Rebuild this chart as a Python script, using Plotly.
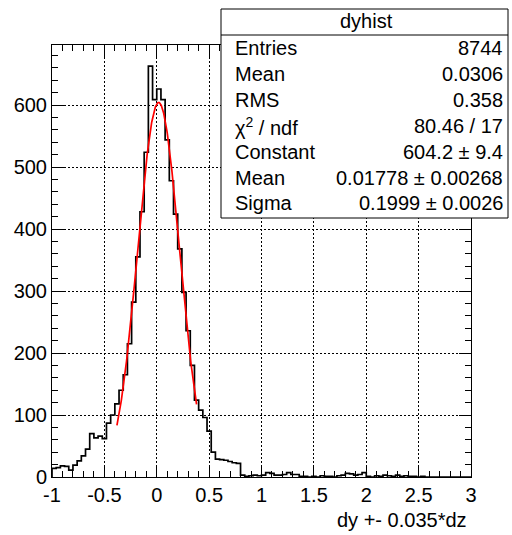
import numpy as np
import plotly.graph_objects as go

# ---- data -------------------------------------------------------------
x_min, x_max, n_bins = -1.0, 3.0, 100
counts = [
    14, 15, 18, 17, 11, 19, 26, 34, 45, 70,
    63, 66, 62, 87, 100, 118, 140, 165, 215, 282,
    355, 428, 524, 663, 609, 626, 609, 544, 478, 424,
    368, 298, 236, 180, 124, 108, 96, 74, 40, 29,
    28, 27, 25, 23, 22, 3, 1, 2, 3, 2,
    3, 7, 6, 3, 3, 4, 7, 4, 4, 1,
    1, 0, 1, 0, 2, 1, 1, 0, 2, 3,
    6, 5, 3, 4, 7, 1, 0, 2, 1, 3,
    2, 1, 3, 1, 2, 1, 1, 0, 1, 0,
    0, 0, 0, 0, 0, 0, 0, 0, 0, 0,
]
fit_constant, fit_mean, fit_sigma = 604.2, 0.01778, 0.1999
fit_lo, fit_hi = -0.38, 0.38

x_tick_vals = [-1, -0.5, 0, 0.5, 1, 1.5, 2, 2.5, 3]
x_tick_labels = ["-1", "-0.5", "0", "0.5", "1", "1.5", "2", "2.5", "3"]
y_tick_vals = [0, 100, 200, 300, 400, 500, 600]
y_tick_labels = ["0", "100", "200", "300", "400", "500", "600"]

stats_title = "dyhist"
stats_labels = ["Entries", "Mean", "RMS", "χ<sup>2</sup> / ndf", "Constant", "Mean", "Sigma"]
stats_values = ["8744", "0.0306", "0.358", "80.46 / 17", "604.2 ± 9.4",
                "0.01778 ± 0.00268", "0.1999 ± 0.0026"]
x_title = "dy +- 0.035*dz"

# ---- figure -----------------------------------------------------------
edges = np.linspace(x_min, x_max, n_bins + 1)
hx = [edges[0]] + list(edges)
hy = [0] + list(counts) + [counts[-1]]

fx = np.linspace(fit_lo, fit_hi, 300)
fy = fit_constant * np.exp(-0.5 * ((fx - fit_mean) / fit_sigma) ** 2)

FONT = "Liberation Sans, Arial, Helvetica, sans-serif"

fig = go.Figure()
fig.add_trace(go.Scatter(x=hx, y=hy, mode="lines", line=dict(color="black", width=1.7, shape="hv"),
                         showlegend=False, hoverinfo="skip"))
fig.add_trace(go.Scatter(x=fx, y=fy, mode="lines", line=dict(color="#ff0000", width=1.7),
                         showlegend=False, hoverinfo="skip"))

axis_common = dict(
    showline=True, linecolor="black", linewidth=1, mirror="allticks",
    ticks="inside", tickcolor="black", tickwidth=1, ticklen=12,
    showgrid=True, gridcolor="black", gridwidth=1, griddash="2px,2px",
    zeroline=False, tickfont=dict(family=FONT, size=20, color="black"),
)

fig.update_layout(
    width=512, height=535,
    margin=dict(l=52, r=41, t=45, b=58),
    paper_bgcolor="white", plot_bgcolor="white",
    xaxis=dict(range=[x_min, x_max], tickvals=x_tick_vals, ticktext=x_tick_labels,
               minor=dict(dtick=0.1, tick0=0, ticks="inside", ticklen=6, tickcolor="black", showgrid=False),
               **axis_common),
    yaxis=dict(range=[0, 697], tickvals=y_tick_vals, ticktext=y_tick_labels,
               minor=dict(dtick=20, tick0=0, ticks="inside", ticklen=6, tickcolor="black", showgrid=False),
               **axis_common),
    font=dict(family=FONT, color="black"),
)

# plot-area pixel geometry helpers
L, R, T, B = 52, 471, 45, 477
def px(xp):
    return (xp - L) / (R - L)
def py(yp):
    return (B - yp) / (B - T)

# stats box
box_l, box_r, box_t, box_b = 221, 508, 9, 218
fig.add_shape(type="rect", xref="paper", yref="paper", x0=px(box_l), x1=px(box_r),
              y0=py(box_b), y1=py(box_t), line=dict(color="black", width=1),
              fillcolor="white", layer="above")
fig.add_shape(type="line", xref="paper", yref="paper", x0=px(box_l), x1=px(box_r),
              y0=py(35), y1=py(35), line=dict(color="black", width=1), layer="above")

fig.add_annotation(text=stats_title, xref="paper", yref="paper", x=px(366), y=py(21),
                   xanchor="center", yanchor="middle", showarrow=False,
                   font=dict(family=FONT, size=20, color="black"))
row_y = [48, 74, 100, 126, 152, 178, 203]
for lab, val, yy in zip(stats_labels, stats_values, row_y):
    fig.add_annotation(text=lab, xref="paper", yref="paper", x=px(233), y=py(yy),
                       xanchor="left", yanchor="middle", showarrow=False,
                       font=dict(family=FONT, size=20, color="black"))
    fig.add_annotation(text=val, xref="paper", yref="paper", x=px(505), y=py(yy),
                       xanchor="right", yanchor="middle", showarrow=False,
                       font=dict(family=FONT, size=20, color="black"))

fig.add_annotation(text=x_title, xref="paper", yref="paper", x=px(469), y=py(520),
                   xanchor="right", yanchor="middle", showarrow=False,
                   font=dict(family=FONT, size=20, color="black"))

fig.write_html("out.html")
